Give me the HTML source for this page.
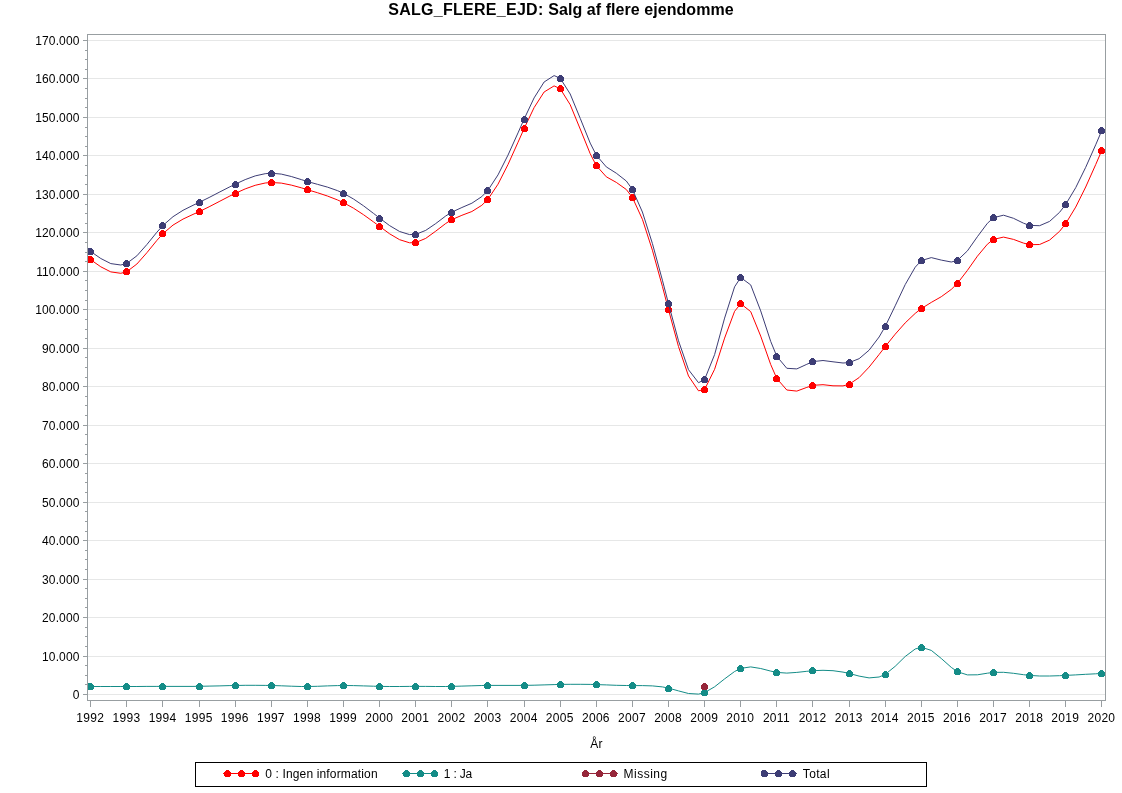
<!DOCTYPE html>
<html lang="da"><head><meta charset="utf-8"><title>SALG_FLERE_EJD: Salg af flere ejendomme</title>
<style>html,body{margin:0;padding:0;background:#fff}body{width:1122px;height:793px;overflow:hidden}svg{display:block}text{font-family:"Liberation Sans", sans-serif;fill:#000}.v{font-size:12px;letter-spacing:0.3px}.t{font-size:16px;font-weight:bold;letter-spacing:0.16px}</style></head><body>
<svg width="1122" height="793" viewBox="0 0 1122 793">
<rect width="1122" height="793" fill="#fff"/>
<text class="t" x="388.2" y="14.8"><tspan style="letter-spacing:0.28px">SALG_FLERE_EJD: </tspan><tspan style="letter-spacing:0.06px">Salg af flere ejendomme</tspan></text>
<path d="M88.0 694.5H1105.0M88.0 656.5H1105.0M88.0 617.5H1105.0M88.0 579.5H1105.0M88.0 540.5H1105.0M88.0 502.5H1105.0M88.0 463.5H1105.0M88.0 425.5H1105.0M88.0 386.5H1105.0M88.0 348.5H1105.0M88.0 309.5H1105.0M88.0 271.5H1105.0M88.0 232.5H1105.0M88.0 194.5H1105.0M88.0 155.5H1105.0M88.0 117.5H1105.0M88.0 78.5H1105.0M88.0 40.5H1105.0" stroke="#e6e7e7" stroke-width="1" fill="none"/>
<path d="M83.0 694.5H87.5M85.0 684.5H87.5M85.0 675.5H87.5M85.0 665.5H87.5M83.0 656.5H87.5M85.0 646.5H87.5M85.0 636.5H87.5M85.0 627.5H87.5M83.0 617.5H87.5M85.0 607.5H87.5M85.0 598.5H87.5M85.0 588.5H87.5M83.0 579.5H87.5M85.0 569.5H87.5M85.0 559.5H87.5M85.0 550.5H87.5M83.0 540.5H87.5M85.0 531.5H87.5M85.0 521.5H87.5M85.0 511.5H87.5M83.0 502.5H87.5M85.0 492.5H87.5M85.0 482.5H87.5M85.0 473.5H87.5M83.0 463.5H87.5M85.0 454.5H87.5M85.0 444.5H87.5M85.0 434.5H87.5M83.0 425.5H87.5M85.0 415.5H87.5M85.0 405.5H87.5M85.0 396.5H87.5M83.0 386.5H87.5M85.0 377.5H87.5M85.0 367.5H87.5M85.0 357.5H87.5M83.0 348.5H87.5M85.0 338.5H87.5M85.0 329.5H87.5M85.0 319.5H87.5M83.0 309.5H87.5M85.0 300.5H87.5M85.0 290.5H87.5M85.0 280.5H87.5M83.0 271.5H87.5M85.0 261.5H87.5M85.0 252.5H87.5M85.0 242.5H87.5M83.0 232.5H87.5M85.0 223.5H87.5M85.0 213.5H87.5M85.0 204.5H87.5M83.0 194.5H87.5M85.0 184.5H87.5M85.0 175.5H87.5M85.0 165.5H87.5M83.0 155.5H87.5M85.0 146.5H87.5M85.0 136.5H87.5M85.0 127.5H87.5M83.0 117.5H87.5M85.0 107.5H87.5M85.0 98.5H87.5M85.0 88.5H87.5M83.0 78.5H87.5M85.0 69.5H87.5M85.0 59.5H87.5M85.0 50.5H87.5M83.0 40.5H87.5M90.5 700.5V707.0M126.5 700.5V707.0M162.5 700.5V707.0M199.5 700.5V707.0M235.5 700.5V707.0M271.5 700.5V707.0M307.5 700.5V707.0M343.5 700.5V707.0M379.5 700.5V707.0M415.5 700.5V707.0M451.5 700.5V707.0M487.5 700.5V707.0M524.5 700.5V707.0M560.5 700.5V707.0M596.5 700.5V707.0M632.5 700.5V707.0M668.5 700.5V707.0M704.5 700.5V707.0M740.5 700.5V707.0M776.5 700.5V707.0M812.5 700.5V707.0M849.5 700.5V707.0M885.5 700.5V707.0M921.5 700.5V707.0M957.5 700.5V707.0M993.5 700.5V707.0M1029.5 700.5V707.0M1065.5 700.5V707.0M1101.5 700.5V707.0" stroke="#989ea1" stroke-width="1" fill="none"/>
<rect x="87.5" y="34.5" width="1018.0" height="666.0" fill="none" stroke="#989ea1" stroke-width="1"/>
<text class="v" x="79.5" y="698.5" text-anchor="end" style="letter-spacing:0.12px">0</text>
<text class="v" x="79.5" y="660.5" text-anchor="end" style="letter-spacing:0.12px">10.000</text>
<text class="v" x="79.5" y="621.5" text-anchor="end" style="letter-spacing:0.12px">20.000</text>
<text class="v" x="79.5" y="583.5" text-anchor="end" style="letter-spacing:0.12px">30.000</text>
<text class="v" x="79.5" y="544.5" text-anchor="end" style="letter-spacing:0.12px">40.000</text>
<text class="v" x="79.5" y="506.5" text-anchor="end" style="letter-spacing:0.12px">50.000</text>
<text class="v" x="79.5" y="467.5" text-anchor="end" style="letter-spacing:0.12px">60.000</text>
<text class="v" x="79.5" y="429.5" text-anchor="end" style="letter-spacing:0.12px">70.000</text>
<text class="v" x="79.5" y="390.5" text-anchor="end" style="letter-spacing:0.12px">80.000</text>
<text class="v" x="79.5" y="352.5" text-anchor="end" style="letter-spacing:0.12px">90.000</text>
<text class="v" x="79.5" y="313.5" text-anchor="end" style="letter-spacing:0.12px">100.000</text>
<text class="v" x="79.5" y="275.5" text-anchor="end" style="letter-spacing:0.12px">110.000</text>
<text class="v" x="79.5" y="236.5" text-anchor="end" style="letter-spacing:0.12px">120.000</text>
<text class="v" x="79.5" y="198.5" text-anchor="end" style="letter-spacing:0.12px">130.000</text>
<text class="v" x="79.5" y="159.5" text-anchor="end" style="letter-spacing:0.12px">140.000</text>
<text class="v" x="79.5" y="121.5" text-anchor="end" style="letter-spacing:0.12px">150.000</text>
<text class="v" x="79.5" y="82.5" text-anchor="end" style="letter-spacing:0.12px">160.000</text>
<text class="v" x="79.5" y="44.5" text-anchor="end" style="letter-spacing:0.12px">170.000</text>
<text class="v" x="90.3" y="721.7" text-anchor="middle">1992</text>
<text class="v" x="126.5" y="721.7" text-anchor="middle">1993</text>
<text class="v" x="162.6" y="721.7" text-anchor="middle">1994</text>
<text class="v" x="198.7" y="721.7" text-anchor="middle">1995</text>
<text class="v" x="234.8" y="721.7" text-anchor="middle">1996</text>
<text class="v" x="270.9" y="721.7" text-anchor="middle">1997</text>
<text class="v" x="307.0" y="721.7" text-anchor="middle">1998</text>
<text class="v" x="343.1" y="721.7" text-anchor="middle">1999</text>
<text class="v" x="379.2" y="721.7" text-anchor="middle">2000</text>
<text class="v" x="415.3" y="721.7" text-anchor="middle">2001</text>
<text class="v" x="451.5" y="721.7" text-anchor="middle">2002</text>
<text class="v" x="487.6" y="721.7" text-anchor="middle">2003</text>
<text class="v" x="523.7" y="721.7" text-anchor="middle">2004</text>
<text class="v" x="559.8" y="721.7" text-anchor="middle">2005</text>
<text class="v" x="595.9" y="721.7" text-anchor="middle">2006</text>
<text class="v" x="632.0" y="721.7" text-anchor="middle">2007</text>
<text class="v" x="668.1" y="721.7" text-anchor="middle">2008</text>
<text class="v" x="704.2" y="721.7" text-anchor="middle">2009</text>
<text class="v" x="740.3" y="721.7" text-anchor="middle">2010</text>
<text class="v" x="776.4" y="721.7" text-anchor="middle">2011</text>
<text class="v" x="812.6" y="721.7" text-anchor="middle">2012</text>
<text class="v" x="848.7" y="721.7" text-anchor="middle">2013</text>
<text class="v" x="884.8" y="721.7" text-anchor="middle">2014</text>
<text class="v" x="920.9" y="721.7" text-anchor="middle">2015</text>
<text class="v" x="957.0" y="721.7" text-anchor="middle">2016</text>
<text class="v" x="993.1" y="721.7" text-anchor="middle">2017</text>
<text class="v" x="1029.2" y="721.7" text-anchor="middle">2018</text>
<text class="v" x="1065.3" y="721.7" text-anchor="middle">2019</text>
<text class="v" x="1101.4" y="721.7" text-anchor="middle">2020</text>
<text class="v" x="596.5" y="748" text-anchor="middle">År</text>
<defs><clipPath id="pc"><rect x="88" y="35" width="1017" height="665"/></clipPath></defs><g clip-path="url(#pc)">
<polyline points="90.8,259.8 100.8,266.8 110.8,271.9 120.8,273.3 126.9,271.6 136.9,264.0 146.9,252.7 156.9,240.4 163.0,233.6 173.0,225.1 183.0,219.1 193.0,214.4 199.1,211.7 209.1,206.8 219.1,201.6 229.1,196.4 235.2,193.4 245.2,188.9 255.2,185.3 265.2,183.0 271.3,182.5 281.3,183.1 291.3,185.1 301.3,187.8 307.4,189.7 317.4,192.7 327.4,196.0 337.4,199.9 343.5,202.7 353.5,208.2 363.5,214.7 373.5,221.9 379.6,226.4 389.6,233.8 399.6,239.7 409.6,242.8 415.7,242.6 425.7,238.4 435.7,231.2 445.7,223.5 451.9,219.6 461.9,215.3 471.9,211.5 481.8,205.3 488.0,199.2 498.0,184.2 508.0,164.5 518.0,142.3 524.1,128.6 534.1,107.6 544.1,92.0 554.1,85.9 560.2,88.7 570.2,104.7 580.2,129.0 590.2,153.7 596.3,165.6 606.3,176.8 616.3,182.4 626.3,189.5 632.4,197.4 642.4,219.3 652.4,250.2 662.4,286.4 668.5,309.7 678.5,346.6 688.5,376.0 698.5,390.8 704.6,389.5 714.6,369.3 724.6,338.1 734.6,311.3 740.7,303.7 750.7,311.6 760.7,336.1 770.7,364.5 776.8,378.5 786.8,390.0 796.8,391.1 806.8,387.4 813.0,385.3 823.0,384.7 833.0,385.8 843.0,385.9 849.1,384.3 859.1,377.6 869.1,367.1 879.1,354.5 885.2,346.6 895.2,334.2 905.2,322.9 915.2,313.4 921.3,308.6 931.3,302.4 941.3,296.7 951.3,289.4 957.4,283.4 967.4,270.4 977.4,256.2 987.4,244.2 993.5,239.4 1003.5,237.1 1013.5,239.4 1023.5,243.1 1029.6,244.7 1039.6,244.5 1049.6,240.1 1059.6,231.3 1065.7,223.6 1075.7,207.1 1085.7,187.0 1095.7,164.6 1101.8,150.4" fill="none" stroke="#ff0000" stroke-width="1" stroke-linejoin="round"/>
<g fill="#ff0000" shape-rendering="crispEdges"><circle cx="90.5" cy="259.5" r="3.5"/><circle cx="126.5" cy="271.5" r="3.5"/><circle cx="162.5" cy="233.5" r="3.5"/><circle cx="199.5" cy="211.5" r="3.5"/><circle cx="235.5" cy="193.5" r="3.5"/><circle cx="271.5" cy="182.5" r="3.5"/><circle cx="307.5" cy="189.5" r="3.5"/><circle cx="343.5" cy="202.5" r="3.5"/><circle cx="379.5" cy="226.5" r="3.5"/><circle cx="415.5" cy="242.5" r="3.5"/><circle cx="451.5" cy="219.5" r="3.5"/><circle cx="487.5" cy="199.5" r="3.5"/><circle cx="524.5" cy="128.5" r="3.5"/><circle cx="560.5" cy="88.5" r="3.5"/><circle cx="596.5" cy="165.5" r="3.5"/><circle cx="632.5" cy="197.5" r="3.5"/><circle cx="668.5" cy="309.5" r="3.5"/><circle cx="704.5" cy="389.5" r="3.5"/><circle cx="740.5" cy="303.5" r="3.5"/><circle cx="776.5" cy="378.5" r="3.5"/><circle cx="812.5" cy="385.5" r="3.5"/><circle cx="849.5" cy="384.5" r="3.5"/><circle cx="885.5" cy="346.5" r="3.5"/><circle cx="921.5" cy="308.5" r="3.5"/><circle cx="957.5" cy="283.5" r="3.5"/><circle cx="993.5" cy="239.5" r="3.5"/><circle cx="1029.5" cy="244.5" r="3.5"/><circle cx="1065.5" cy="223.5" r="3.5"/><circle cx="1101.5" cy="150.5" r="3.5"/></g>
<polyline points="90.8,686.5 100.8,686.5 110.8,686.5 120.8,686.5 126.9,686.5 136.9,686.5 146.9,686.4 156.9,686.4 163.0,686.4 173.0,686.4 183.0,686.4 193.0,686.4 199.1,686.3 209.1,686.1 219.1,685.9 229.1,685.6 235.2,685.5 245.2,685.3 255.2,685.3 265.2,685.4 271.3,685.5 281.3,685.8 291.3,686.2 301.3,686.5 307.4,686.5 317.4,686.3 327.4,685.9 337.4,685.6 343.5,685.5 353.5,685.6 363.5,685.9 373.5,686.2 379.6,686.4 389.6,686.5 399.6,686.5 409.6,686.4 415.7,686.4 425.7,686.4 435.7,686.5 445.7,686.5 451.9,686.4 461.9,686.1 471.9,685.8 481.8,685.5 488.0,685.4 498.0,685.4 508.0,685.4 518.0,685.4 524.1,685.4 534.1,685.2 544.1,684.9 554.1,684.6 560.2,684.4 570.2,684.3 580.2,684.3 590.2,684.4 596.3,684.6 606.3,684.9 616.3,685.3 626.3,685.5 632.4,685.6 642.4,685.6 652.4,685.9 662.4,686.9 668.5,688.1 678.5,690.9 688.5,693.5 698.5,694.1 704.6,692.6 714.6,686.8 724.6,678.9 734.6,671.5 740.7,668.4 750.7,666.9 760.7,668.5 770.7,671.1 776.8,672.4 786.8,673.1 796.8,672.4 806.8,671.3 813.0,670.7 823.0,670.3 833.0,670.7 843.0,672.1 849.1,673.4 859.1,676.1 869.1,677.9 879.1,677.0 885.2,674.4 895.2,666.3 905.2,656.5 915.2,649.0 921.3,647.2 931.3,650.4 941.3,658.5 951.3,667.4 957.4,671.7 967.4,674.9 977.4,674.8 987.4,673.2 993.5,672.4 1003.5,672.3 1013.5,673.3 1023.5,674.7 1029.6,675.4 1039.6,676.0 1049.6,676.0 1059.6,675.7 1065.7,675.4 1075.7,674.9 1085.7,674.3 1095.7,673.8 1101.8,673.4" fill="none" stroke="#148c87" stroke-width="1" stroke-linejoin="round"/>
<g fill="#148c87" shape-rendering="crispEdges"><circle cx="90.5" cy="686.5" r="3.5"/><circle cx="126.5" cy="686.5" r="3.5"/><circle cx="162.5" cy="686.5" r="3.5"/><circle cx="199.5" cy="686.5" r="3.5"/><circle cx="235.5" cy="685.5" r="3.5"/><circle cx="271.5" cy="685.5" r="3.5"/><circle cx="307.5" cy="686.5" r="3.5"/><circle cx="343.5" cy="685.5" r="3.5"/><circle cx="379.5" cy="686.5" r="3.5"/><circle cx="415.5" cy="686.5" r="3.5"/><circle cx="451.5" cy="686.5" r="3.5"/><circle cx="487.5" cy="685.5" r="3.5"/><circle cx="524.5" cy="685.5" r="3.5"/><circle cx="560.5" cy="684.5" r="3.5"/><circle cx="596.5" cy="684.5" r="3.5"/><circle cx="632.5" cy="685.5" r="3.5"/><circle cx="668.5" cy="688.5" r="3.5"/><circle cx="704.5" cy="692.5" r="3.5"/><circle cx="740.5" cy="668.5" r="3.5"/><circle cx="776.5" cy="672.5" r="3.5"/><circle cx="812.5" cy="670.5" r="3.5"/><circle cx="849.5" cy="673.5" r="3.5"/><circle cx="885.5" cy="674.5" r="3.5"/><circle cx="921.5" cy="647.5" r="3.5"/><circle cx="957.5" cy="671.5" r="3.5"/><circle cx="993.5" cy="672.5" r="3.5"/><circle cx="1029.5" cy="675.5" r="3.5"/><circle cx="1065.5" cy="675.5" r="3.5"/><circle cx="1101.5" cy="673.5" r="3.5"/></g>
<g fill="#96263a" shape-rendering="crispEdges"><circle cx="704.5" cy="686.5" r="3.5"/></g>
<polyline points="90.8,251.6 100.8,258.5 110.8,263.6 120.8,265.0 126.9,263.3 136.9,255.8 146.9,244.5 156.9,232.2 163.0,225.4 173.0,216.7 183.0,210.3 193.0,205.3 199.1,202.4 209.1,197.5 219.1,192.3 229.1,187.2 235.2,184.2 245.2,179.6 255.2,175.9 265.2,173.7 271.3,173.2 281.3,174.1 291.3,176.5 301.3,179.6 307.4,181.5 317.4,184.3 327.4,187.1 337.4,190.6 343.5,193.3 353.5,199.0 363.5,205.8 373.5,213.4 379.6,218.1 389.6,225.6 399.6,231.5 409.6,234.6 415.7,234.4 425.7,230.4 435.7,223.6 445.7,216.0 451.9,212.1 461.9,207.5 471.9,203.2 481.8,196.6 488.0,190.2 498.0,174.9 508.0,155.1 518.0,132.9 524.1,119.1 534.1,97.9 544.1,82.0 554.1,75.6 560.2,78.2 570.2,94.0 580.2,118.3 590.2,143.1 596.3,155.2 606.3,166.9 616.3,173.2 626.3,181.0 632.4,189.4 642.4,212.0 652.4,243.5 662.4,280.2 668.5,303.7 678.5,340.8 688.5,369.7 698.5,382.7 704.6,379.5 714.6,354.6 724.6,318.1 734.6,286.8 740.7,277.5 750.7,284.9 760.7,310.9 770.7,341.4 776.8,356.3 786.8,368.3 796.8,368.9 806.8,364.3 813.0,361.6 823.0,360.5 833.0,361.8 843.0,363.0 849.1,362.6 859.1,358.7 869.1,350.2 879.1,337.0 885.2,326.5 895.2,305.8 905.2,284.6 915.2,267.2 921.3,260.6 931.3,257.6 941.3,260.1 951.3,262.0 957.4,260.4 967.4,250.9 977.4,236.7 987.4,223.3 993.5,217.7 1003.5,215.2 1013.5,218.3 1023.5,223.2 1029.6,225.4 1039.6,225.7 1049.6,221.4 1059.6,212.3 1065.7,204.4 1075.7,187.7 1085.7,167.3 1095.7,144.8 1101.8,130.5" fill="none" stroke="#3d3d75" stroke-width="1" stroke-linejoin="round"/>
<g fill="#3d3d75" shape-rendering="crispEdges"><circle cx="90.5" cy="251.5" r="3.5"/><circle cx="126.5" cy="263.5" r="3.5"/><circle cx="162.5" cy="225.5" r="3.5"/><circle cx="199.5" cy="202.5" r="3.5"/><circle cx="235.5" cy="184.5" r="3.5"/><circle cx="271.5" cy="173.5" r="3.5"/><circle cx="307.5" cy="181.5" r="3.5"/><circle cx="343.5" cy="193.5" r="3.5"/><circle cx="379.5" cy="218.5" r="3.5"/><circle cx="415.5" cy="234.5" r="3.5"/><circle cx="451.5" cy="212.5" r="3.5"/><circle cx="487.5" cy="190.5" r="3.5"/><circle cx="524.5" cy="119.5" r="3.5"/><circle cx="560.5" cy="78.5" r="3.5"/><circle cx="596.5" cy="155.5" r="3.5"/><circle cx="632.5" cy="189.5" r="3.5"/><circle cx="668.5" cy="303.5" r="3.5"/><circle cx="704.5" cy="379.5" r="3.5"/><circle cx="740.5" cy="277.5" r="3.5"/><circle cx="776.5" cy="356.5" r="3.5"/><circle cx="812.5" cy="361.5" r="3.5"/><circle cx="849.5" cy="362.5" r="3.5"/><circle cx="885.5" cy="326.5" r="3.5"/><circle cx="921.5" cy="260.5" r="3.5"/><circle cx="957.5" cy="260.5" r="3.5"/><circle cx="993.5" cy="217.5" r="3.5"/><circle cx="1029.5" cy="225.5" r="3.5"/><circle cx="1065.5" cy="204.5" r="3.5"/><circle cx="1101.5" cy="130.5" r="3.5"/></g>
</g>
<rect x="195.5" y="762.5" width="731" height="24" fill="#fff" stroke="#000" stroke-width="1"/>
<path d="M223.0 773.5H259.0" stroke="#ff0000" stroke-width="1"/>
<g fill="#ff0000" shape-rendering="crispEdges"><circle cx="227.5" cy="773.5" r="3.5"/><circle cx="241.5" cy="773.5" r="3.5"/><circle cx="255.5" cy="773.5" r="3.5"/></g>
<text class="v" x="265.2" y="778" style="letter-spacing:0.15px">0 : Ingen information</text>
<path d="M402.0 773.5H438.0" stroke="#148c87" stroke-width="1"/>
<g fill="#148c87" shape-rendering="crispEdges"><circle cx="406.5" cy="773.5" r="3.5"/><circle cx="420.5" cy="773.5" r="3.5"/><circle cx="434.5" cy="773.5" r="3.5"/></g>
<text class="v" x="443.8" y="778" style="letter-spacing:-0.20px">1 : Ja</text>
<path d="M582.0 773.5H618.0" stroke="#96263a" stroke-width="1"/>
<g fill="#96263a" shape-rendering="crispEdges"><circle cx="585.5" cy="773.5" r="3.5"/><circle cx="599.5" cy="773.5" r="3.5"/><circle cx="613.5" cy="773.5" r="3.5"/></g>
<text class="v" x="623.6" y="778" style="letter-spacing:0.48px">Missing</text>
<path d="M761.0 773.5H797.0" stroke="#3d3d75" stroke-width="1"/>
<g fill="#3d3d75" shape-rendering="crispEdges"><circle cx="764.5" cy="773.5" r="3.5"/><circle cx="778.5" cy="773.5" r="3.5"/><circle cx="792.5" cy="773.5" r="3.5"/></g>
<text class="v" x="802.8" y="778" style="letter-spacing:0.35px">Total</text>
</svg></body></html>
